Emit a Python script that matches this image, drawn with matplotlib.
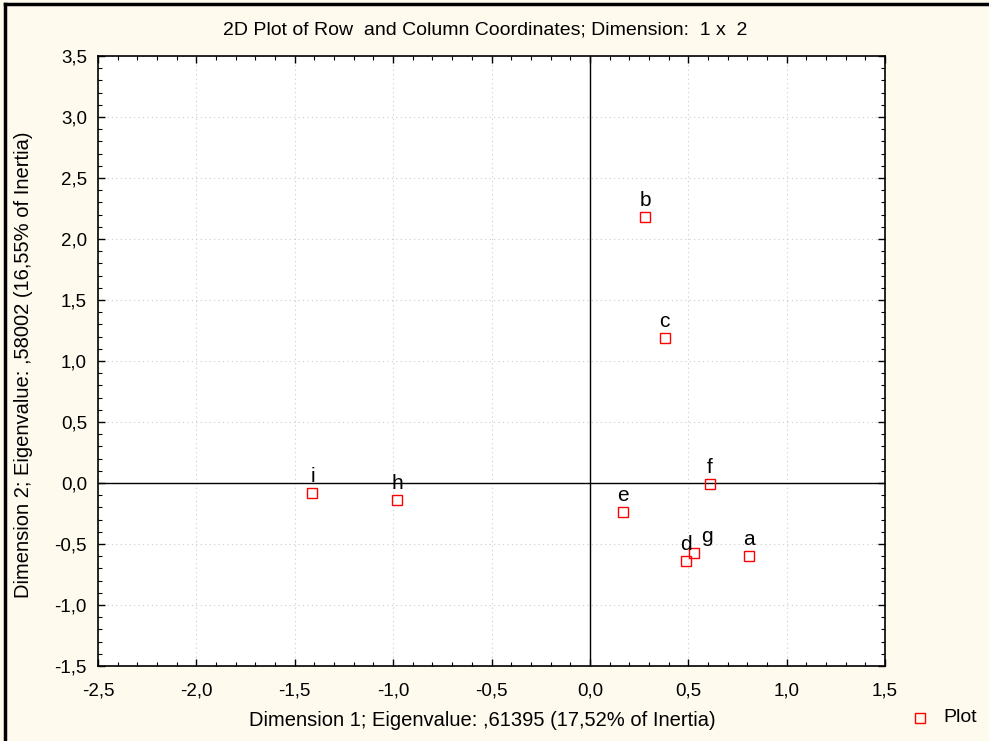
import numpy as np
import matplotlib
matplotlib.use("Agg")
import matplotlib.pyplot as plt
from matplotlib.ticker import MultipleLocator, FuncFormatter
from matplotlib.lines import Line2D

plt.rcParams["font.family"] = ["Liberation Sans", "DejaVu Sans"]

# Coordinates
labels = ["a", "b", "c", "d", "e", "f", "g", "h", "i"]
dim1 = [0.81, 0.28, 0.38, 0.49, 0.17, 0.61, 0.53, -0.98, -1.41]
dim2 = [-0.60, 2.18, 1.19, -0.64, -0.24, -0.01, -0.57, -0.14, -0.08]

title = "2D Plot of Row  and Column Coordinates; Dimension:  1 x  2"
xlabel = "Dimension 1; Eigenvalue: ,61395 (17,52% of Inertia)"
ylabel = "Dimension 2; Eigenvalue: ,58002 (16,55% of Inertia)"

bg = "#FFFAEE"

fig = plt.figure(figsize=(9.89, 7.41), dpi=100, facecolor=bg)
ax = fig.add_axes([98 / 989, 1 - 666 / 741, 787 / 989, 610 / 741])
ax.set_facecolor("white")

ax.set_xlim(-2.5, 1.5)
ax.set_ylim(-1.5, 3.5)

ax.xaxis.set_major_locator(MultipleLocator(0.5))
ax.xaxis.set_minor_locator(MultipleLocator(0.1))
ax.yaxis.set_major_locator(MultipleLocator(0.5))
ax.yaxis.set_minor_locator(MultipleLocator(0.1))

fmt = FuncFormatter(lambda v, p: f"{v:.1f}".replace(".", ",").replace("-0,0", "0,0"))
ax.xaxis.set_major_formatter(fmt)
ax.yaxis.set_major_formatter(fmt)

ax.tick_params(which="both", direction="in", top=True, right=True, colors="black")
ax.tick_params(which="major", length=5, width=1, labelsize=13.5)
ax.tick_params(axis="x", which="major", pad=12)
ax.tick_params(axis="y", which="major", pad=8)
ax.tick_params(which="minor", length=3, width=0.8)

ax.grid(which="major", linestyle=(0, (1, 3)), color="#cccccc", linewidth=0.8)
for s in ax.spines.values():
    s.set_linewidth(1.2)

ax.axhline(0, color="black", linewidth=1)
ax.axvline(0, color="black", linewidth=1)

ax.plot(dim1, dim2, linestyle="none", marker="s", markersize=6.5,
        markerfacecolor="none", markeredgecolor="red", markeredgewidth=1, zorder=5)
for lab, x, y in zip(labels, dim1, dim2):
    dx = 9 if lab == "g" else 0
    ax.annotate(lab, (x, y), xytext=(dx, 5), textcoords="offset points",
                ha="center", va="bottom", fontsize=15, zorder=6)

fig.text(485 / 989, 1 - 30 / 741, title, ha="center", va="center", fontsize=14)
fig.text(482 / 989, 1 - 720 / 741, xlabel, ha="center", va="center", fontsize=14.5)
fig.text(24 / 989, 1 - 365 / 741, ylabel, ha="center", va="center",
         rotation=90, fontsize=14.5)

# legend outside the axes
fig.add_artist(Line2D([920 / 989], [1 - 718 / 741], marker="s", markersize=6.5,
                      markerfacecolor="none", markeredgecolor="red",
                      markeredgewidth=1, linestyle="none"))
fig.text(943 / 989, 1 - 718 / 741, "Plot", ha="left", va="center", fontsize=14)

# frame lines on left and top of the image
fig.add_artist(Line2D([5 / 989, 5 / 989], [0, 1 - 4 / 741], color="black", linewidth=2.5))
fig.add_artist(Line2D([5 / 989, 1], [1 - 4 / 741, 1 - 4 / 741], color="black", linewidth=2.5))

plt.savefig("out.png", dpi=100, facecolor=bg)
